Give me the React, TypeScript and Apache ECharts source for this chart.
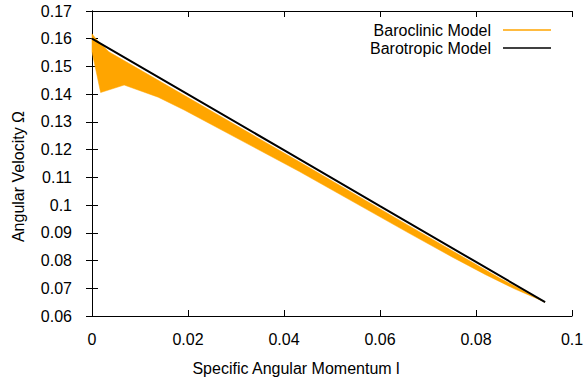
import React, { useEffect, useRef } from "react";
import * as echarts from "echarts";

const blackL = [0, 0.02, 0.04, 0.06, 0.08, 0.0944];
const blackW = [0.16, 0.1399, 0.1198, 0.0996, 0.0795, 0.065];

const upperL = [0, 0.0008, 0.0035, 0.0192, 0.0432, 0.0661, 0.085, 0.0944];
const upperW = [0.1618, 0.16, 0.1553, 0.1396, 0.1156, 0.0925, 0.0736, 0.065];

const lowerL = [0, 0.0018, 0.0067, 0.0138, 0.0192, 0.0432, 0.0661, 0.075, 0.082, 0.088, 0.0944];
const lowerW = [0.1553, 0.1406, 0.1433, 0.1389, 0.1343, 0.1121, 0.0898, 0.0813, 0.0749, 0.0698, 0.065];

const xTicks = [0, 0.02, 0.04, 0.06, 0.08, 0.1];
const yTicks = [0.06, 0.07, 0.08, 0.09, 0.1, 0.11, 0.12, 0.13, 0.14, 0.15, 0.16, 0.17];

const FONT = "Liberation Sans, Arial, Helvetica, sans-serif";
const FS = 16;

export default function App() {
  const ref = useRef<HTMLDivElement>(null);
  useEffect(() => {
    if (!ref.current) return;
    const chart = echarts.init(ref.current, undefined, { renderer: "svg" });
    const band = upperL.map((l, i) => [l, upperW[i]]).concat(
      lowerL.map((l, i) => [l, lowerW[i]]).reverse()
    );
    const black = blackL.map((l, i) => [l, blackW[i]]);
    const xMin = xTicks[0], xMax = xTicks[xTicks.length - 1];
    const yMin = yTicks[0], yMax = yTicks[yTicks.length - 1];
    const tickStyle = { show: true, inside: true, length: 6, lineStyle: { color: "#000", width: 1 } };
    const baseX = {
      type: "value" as const,
      min: xMin,
      max: xMax,
      interval: 0.02,
      splitLine: { show: false },
      axisLine: { show: true, lineStyle: { color: "#000", width: 1 } },
      axisTick: tickStyle,
    };
    const baseY = {
      type: "value" as const,
      min: yMin,
      max: yMax,
      interval: 0.01,
      splitLine: { show: false },
      axisLine: { show: true, lineStyle: { color: "#000", width: 1 } },
      axisTick: tickStyle,
    };
    const fmt = (v: number) => String(parseFloat(v.toFixed(4)));
    chart.setOption({
      animation: false,
      textStyle: { fontFamily: FONT },
      grid: { left: 92, right: 15, top: 11, bottom: 63, containLabel: false },
      legend: {
        right: 31,
        top: 17,
        orient: "vertical",
        align: "right",
        itemWidth: 48,
        itemHeight: 1.5,
        itemGap: 2,
        textStyle: { fontSize: FS, color: "#000", fontFamily: FONT, padding: [0, 7, 0, 0] },
        data: [
          { name: "Baroclinic Model", icon: "rect" },
          { name: "Barotropic Model", icon: "rect" },
        ],
      },
      xAxis: [
        {
          ...baseX,
          position: "bottom",
          name: "Specific Angular Momentum l",
          nameLocation: "middle",
          nameGap: 44,
          nameTextStyle: { fontSize: FS, color: "#000", fontFamily: FONT, padding: [0, 72, 0, 0] },
          axisLabel: { fontSize: FS, color: "#000", margin: 15, fontFamily: FONT, formatter: fmt },
        },
        { ...baseX, position: "top", axisLabel: { show: false } },
      ],
      yAxis: [
        {
          ...baseY,
          position: "left",
          name: "Angular Velocity Ω",
          nameLocation: "middle",
          nameGap: 66,
          nameTextStyle: { fontSize: FS, color: "#000", fontFamily: FONT, padding: [0, 26, 0, 0] },
          axisLabel: { fontSize: FS, color: "#000", margin: 20, fontFamily: FONT, formatter: fmt },
        },
        { ...baseY, position: "right", axisLabel: { show: false } },
      ],
      series: [
        {
          name: "Baroclinic Model",
          type: "custom",
          xAxisIndex: 0,
          yAxisIndex: 0,
          itemStyle: { color: "#FFA500" },
          data: [[0, 0]],
          renderItem: (_params: any, api: any) => {
            const pts = band.map((p) => api.coord(p));
            return {
              type: "polygon",
              shape: { points: pts },
              style: { fill: "#FFA500", stroke: "#FFA500", lineWidth: 0.5 },
            };
          },
          z: 2,
        },
        {
          name: "Barotropic Model",
          type: "line",
          xAxisIndex: 0,
          yAxisIndex: 0,
          data: black,
          showSymbol: false,
          symbol: "none",
          lineStyle: { color: "#000", width: 2 },
          itemStyle: { color: "#000" },
          z: 3,
        },
      ],
    });
    return () => chart.dispose();
  }, []);
  return <div ref={ref} style={{ width: 587, height: 381, position: "absolute", left: 0, top: 0 }} />;
}
